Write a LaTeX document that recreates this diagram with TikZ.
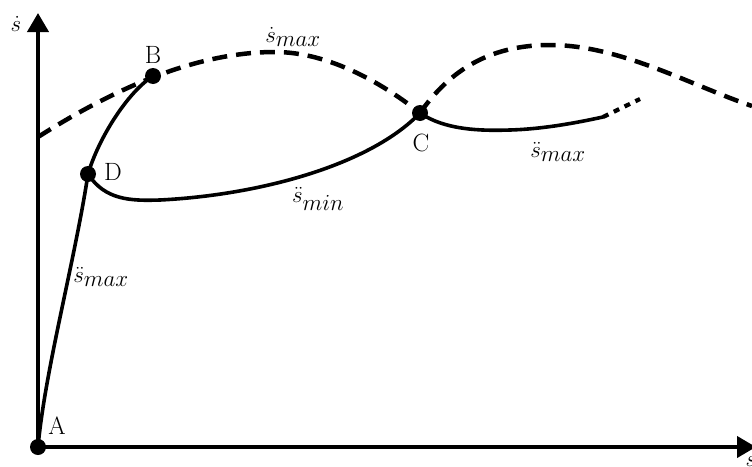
\RequirePackage{fix-cm}
\documentclass[tikz,border=0pt]{standalone}
\usetikzlibrary{arrows.meta}
\tikzset{
  axis/.style={line width=4pt,-{Triangle[width=21pt,length=19pt]}},
  curve/.style={line width=3.6pt,line cap=round},
  dashcurve/.style={line width=4.5pt,dash pattern=on 15pt off 9pt},
  dotcurve/.style={line width=4.2pt,dash pattern=on 6pt off 6pt},
  dot/.style={circle,fill=black,minimum size=16pt,inner sep=0pt},
  ptlabel/.style={font=\fontsize{25}{28}\selectfont,inner sep=0pt},
  mlabel/.style={font=\fontsize{23}{27}\selectfont,inner sep=0pt},
}
\begin{document}
\begin{tikzpicture}[x=1pt,y=-1pt]
\useasboundingbox (0,0) rectangle (752,466);
% points
\node[dot] (A) at (38,447) {};
\node[dot] (B) at (153,76) {};
\node[dot] (C) at (420,113) {};
\node[dot] (D) at (88,174) {};
\coordinate (ytip) at (38,13);
\coordinate (xtip) at (756,447);
\coordinate (d0) at (38,137);
\coordinate (dp1) at (275,52);
\coordinate (dp2) at (550,45);
\coordinate (d1) at (752,106);
\coordinate (m1) at (160,200);
\coordinate (m2) at (510,130);
\coordinate (e0) at (603,117);
\coordinate (e1) at (640,99);
% axes
\draw[axis] (A.center) -- (ytip);
\draw[axis] (A.center) -- (xtip);
% dashed velocity limit
\draw[dashcurve] (d0) .. controls (120,85) and (200,52) .. (dp1)
  .. controls (330,52) and (385,85) .. (C.center);
\draw[dashcurve] (C.center) .. controls (450,70) and (490,45) .. (dp2)
  .. controls (620,45) and (690,85) .. (d1);
% solid curves
\draw[curve] (A.center) .. controls (45,370) and (75,260) .. (D.center)
  .. controls (99,137) and (128,92) .. (B.center);
\draw[curve] (D.center) .. controls (105,200) and (130,201) .. (m1)
  .. controls (260,195) and (370,165) .. (C.center);
\draw[curve] (C.center) .. controls (445,130) and (480,131) .. (m2)
  .. controls (545,129) and (580,122) .. (e0);
\draw[dotcurve] (e0) -- (e1);
% labels
\node[ptlabel] (lA) at (57,426) {A};
\node[ptlabel] (lB) at (153,55) {B};
\node[ptlabel] (lC) at (421,143) {C};
\node[ptlabel] (lD) at (113,172) {D};
\node[mlabel] (ly) at (16,24) {$\dot{s}$};
\node[mlabel,anchor=north] (lx) at (751,456) {$s$};
\node[mlabel] (l1) at (293,37) {$\dot{s}_{\textstyle max}$};
\node[mlabel] (l2) at (318,199) {$\ddot{s}_{\textstyle min}$};
\node[mlabel] (l3) at (101,277) {$\ddot{s}_{\textstyle max}$};
\node[mlabel] (l4) at (558,152) {$\ddot{s}_{\textstyle max}$};
\end{tikzpicture}
\end{document}
